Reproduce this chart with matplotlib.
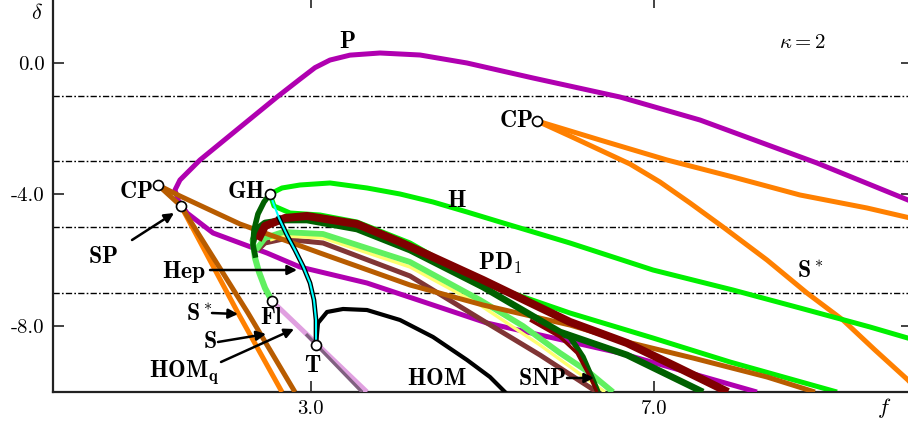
import matplotlib
matplotlib.use("Agg")
import matplotlib.pyplot as plt

plt.rcParams["mathtext.fontset"] = "cm"
plt.rcParams["font.family"] = ["cmr10", "DejaVu Serif"]
plt.rcParams["axes.unicode_minus"] = False

# --- curves in the (f, delta) plane ---
# P (magenta)
p_f = [8.195, 6.601, 5.052, 3.655, 2.875, 2.491, 1.863, 1.560, 1.455, 1.420, 1.478,
       1.711, 2.095, 2.608, 2.875, 3.050, 3.224, 3.457, 3.807, 4.272, 4.819, 5.588,
       6.601, 7.532, 8.894, 9.953, 10.03]
p_d = [-10.01, -8.824, -7.912, -6.696, -6.210, -5.784, -5.176, -4.568, -4.173, -3.869,
       -3.565, -2.957, -2.137, -1.043, -0.500, -0.150, 0.080, 0.230, 0.295, 0.234,
       -0.009, -0.465, -1.043, -1.742, -3.049, -4.173, -4.26]

# saddle-node branches from the right cusp CP
cp2_up_f = [5.634, 6.368, 7.148, 7.916, 8.696, 9.476, 10.03]
cp2_up_d = [-1.77, -2.350, -2.957, -3.474, -4.021, -4.416, -4.751]
cp2_lo_f = [5.634, 6.018, 6.368, 6.717, 7.066, 7.416, 7.800, 8.312, 8.777, 9.196,
            9.569, 9.953, 10.03]
cp2_lo_d = [-1.77, -2.228, -2.654, -3.079, -3.626, -4.264, -4.994, -5.997, -7.000,
            -7.821, -8.733, -9.644, -9.857]

# branches from the left cusp CP
cp1_f = [1.222, 1.478, 2.177, 3.108, 4.156, 5.006, 6.018, 6.682, 7.450, 8.312, 8.870]
cp1_d = [-3.717, -4.052, -4.903, -5.784, -6.757, -7.365, -7.973, -8.489, -8.976,
         -9.553, -10.01]
sstar_f = [1.490, 2.154, 2.666]
sstar_d = [-4.356, -7.608, -10.01]
s_f = [1.222, 1.490, 2.270, 2.817]
s_d = [-3.717, -4.356, -7.608, -10.01]

# Hopf curve H (two branches out of GH)
h_up_f = [2.526, 2.666, 2.875, 3.225, 3.655, 4.040, 4.424, 4.820, 5.204, 6.018, 6.985,
          7.916, 8.696, 9.511, 10.03]
h_up_d = [-3.991, -3.808, -3.717, -3.656, -3.808, -3.991, -4.234, -4.538, -4.842,
          -5.480, -6.301, -6.909, -7.456, -8.033, -8.429]
h_lo_f = [2.526, 2.573, 2.759, 3.108, 3.539, 4.156, 4.936, 6.018, 6.985, 7.881, 9.127]
h_lo_d = [-3.991, -4.356, -4.568, -4.629, -4.842, -5.480, -6.635, -7.608, -8.368,
          -9.097, -10.01]

# PD / SNP bundle
maroon_f = [2.386, 2.468, 2.701, 2.957, 3.539, 4.040, 5.006, 6.018, 6.682, 7.264, 7.858]
maroon_d = [-5.389, -4.964, -4.720, -4.659, -4.903, -5.450, -6.605, -7.881, -8.520,
            -9.249, -10.01]
maroon2_f = [5.553, 5.902, 6.100, 6.251, 6.333]
maroon2_d = [-7.821, -8.337, -8.824, -9.553, -10.01]
dgreen_f = [2.328, 2.363, 2.468, 2.701, 2.957, 3.539, 4.156, 5.006, 5.902, 6.682, 7.567]
dgreen_d = [-5.450, -5.085, -4.872, -4.781, -4.781, -5.055, -5.693, -6.818, -8.185,
            -8.884, -10.01]
dgreen2_f = [5.669, 5.867, 6.018, 6.170, 6.286, 6.344]
dgreen2_d = [-7.881, -8.216, -8.337, -8.945, -9.644, -10.01]
lgreen_f = [2.363, 2.468, 2.678, 3.143, 4.156, 4.971, 5.471, 5.902, 6.251, 6.519]
lgreen_d = [-5.693, -5.328, -5.146, -5.207, -6.058, -7.213, -8.003, -8.824, -9.432,
            -10.01]
yellow_f = [2.526, 2.678, 3.143, 4.156, 4.971, 5.669, 6.426]
yellow_d = [-5.389, -5.268, -5.328, -6.210, -7.365, -8.581, -10.01]
rose_f = [2.386, 2.468, 2.678, 3.143, 4.156, 5.052, 5.669, 6.333]
rose_d = [-5.693, -5.480, -5.359, -5.480, -6.483, -7.912, -8.884, -10.01]

# fold of limit cycles from GH down to Fl
fold_dk_f = [2.526, 2.456, 2.386, 2.340, 2.328, 2.352]
fold_dk_d = [-3.991, -4.234, -4.599, -5.085, -5.541, -5.845]
fold_lt_f = [2.328, 2.352, 2.398, 2.468, 2.549]
fold_lt_d = [-5.450, -5.936, -6.362, -6.848, -7.243]

# homoclinic curves
hep_f = [2.526, 2.573, 2.631, 2.724, 2.817, 2.910, 2.992, 3.038, 3.062, 3.062]
hep_d = [-3.991, -4.325, -4.720, -5.237, -5.693, -6.179, -6.696, -7.213, -7.821, -8.581]
hom_f = [3.062, 3.085, 3.190, 3.376, 3.655, 4.040, 4.424, 4.820, 5.087, 5.262]
hom_d = [-8.581, -7.912, -7.577, -7.486, -7.517, -7.821, -8.337, -9.036, -9.553, -10.01]
homq_f = [2.549, 3.655]
homq_d = [-7.243, -10.01]
homq2_f = [2.945, 3.597]
homq2_d = [-8.25, -10.01]

# codimension-two points
pts_f = [1.222, 1.490, 2.526, 2.549, 3.062, 5.634]
pts_d = [-3.717, -4.356, -3.991, -7.243, -8.581, -1.77]

dash_levels = [-1, -3, -5, -7]
yticks = [0, -4, -8]
ytick_labels = ["0.0", "-4.0", "-8.0"]
xticks = [3, 7]
xtick_labels = ["3.0", "7.0"]

MAG = "#B000B0"
ORANGE = "#FF8000"
BROWN = "#B85C00"
GREEN = "#00F000"

fig = plt.figure(figsize=(9.08, 4.25), dpi=100)
ax = fig.add_axes([53 / 908, 33.3 / 425, 859 / 908, 394.8 / 425])
ax.set_xlim(0, 10)
ax.set_ylim(-10, 2)

for lev in dash_levels:
    ax.axhline(lev, color="k", lw=1.0, ls=(0, (4.5, 1.6, 1.2, 1.6)), zorder=1)

lw = 3.6
ax.plot(p_f, p_d, color=MAG, lw=lw, zorder=3, solid_capstyle="butt")
ax.plot(cp2_up_f, cp2_up_d, color=ORANGE, lw=lw, zorder=3)
ax.plot(cp2_lo_f, cp2_lo_d, color=ORANGE, lw=lw, zorder=3)
ax.plot(sstar_f, sstar_d, color=ORANGE, lw=lw, zorder=3, solid_capstyle="butt")
ax.plot(s_f, s_d, color=BROWN, lw=lw, zorder=3, solid_capstyle="butt")
ax.plot(h_up_f, h_up_d, color=GREEN, lw=lw, zorder=3)
ax.plot(h_lo_f, h_lo_d, color=GREEN, lw=lw, zorder=2.5, solid_capstyle="butt")

ax.plot(rose_f, rose_d, color="#803535", lw=3.6, zorder=3.1, solid_capstyle="butt")
ax.plot(yellow_f, yellow_d, color="#FFFF70", lw=2.4, zorder=3.2, solid_capstyle="butt")
ax.plot(lgreen_f, lgreen_d, color="#60F060", lw=4.2, zorder=3.3, solid_capstyle="butt")
ax.plot(cp1_f, cp1_d, color=BROWN, lw=lw, zorder=3.35, solid_capstyle="butt")
ax.plot(dgreen_f, dgreen_d, color="#006000", lw=4.8, zorder=3.4, solid_capstyle="butt")
ax.plot(dgreen2_f, dgreen2_d, color="#006000", lw=4.0, zorder=3.4, solid_capstyle="butt")
ax.plot(maroon_f, maroon_d, color="#800000", lw=5.8, zorder=3.5, solid_capstyle="butt")
ax.plot(maroon2_f, maroon2_d, color="#800000", lw=2.4, zorder=3.5, solid_capstyle="butt")

ax.plot(fold_lt_f, fold_lt_d, color="#60F060", lw=4.4, zorder=3.6)
ax.plot(fold_dk_f, fold_dk_d, color="#006000", lw=4.0, zorder=3.7)

ax.plot(homq_f, homq_d, color="#E0A0E0", lw=lw, zorder=3.8, solid_capstyle="butt")
ax.plot(homq2_f, homq2_d, color="#806080", lw=2.4, zorder=3.9, solid_capstyle="butt")

ax.plot(hep_f[2:], hep_d[2:], color="k", lw=3.4, zorder=5)
ax.plot(hep_f, hep_d, color="#00FFFF", lw=1.5, zorder=5.1)
ax.plot(hom_f, hom_d, color="k", lw=3.0, zorder=5)

ax.plot(pts_f, pts_d, ls="none", marker="o", ms=7.2, mfc="white", mec="k",
        mew=1.2, zorder=6, clip_on=False)

for sp in ax.spines.values():
    sp.set_linewidth(1.6)
    sp.set_color("#222222")
ax.set_xticks(xticks)
ax.set_xticklabels(xtick_labels)
ax.set_yticks(yticks)
ax.set_yticklabels(ytick_labels)
ax.tick_params(direction="in", length=8, width=1.2, labelsize=15, pad=6,
               top=True, right=True, color="#222222")

fs = 17
labels = [
    (3.423, 0.447, r"$\mathbf{P}$", "center"),
    (5.588, -1.954, r"$\mathbf{CP}$", "right"),
    (1.164, -4.112, r"$\mathbf{CP}$", "right"),
    (2.468, -4.112, r"$\mathbf{GH}$", "right"),
    (4.703, -4.386, r"$\mathbf{H}$", "center"),
    (0.582, -6.088, r"$\mathbf{SP}$", "center"),
    (1.519, -6.544, r"$\mathbf{Hep}$", "center"),
    (5.204, -6.301, r"$\mathbf{PD_1}$", "center"),
    (8.812, -6.514, r"$\mathbf{S}^*$", "center"),
    (1.700, -7.821, r"$\mathbf{S}^*$", "center"),
    (2.549, -7.942, r"$\mathbf{Fl}$", "center"),
    (1.828, -8.672, r"$\mathbf{S}$", "center"),
    (1.525, -9.553, r"$\mathbf{HOM_q}$", "center"),
    (3.027, -9.401, r"$\mathbf{T}$", "center"),
    (4.470, -9.796, r"$\mathbf{HOM}$", "center"),
    (5.692, -9.796, r"$\mathbf{SNP}$", "center"),
]
for x, y, s, ha in labels:
    ax.text(x, y, s, ha=ha, va="baseline", fontsize=fs, zorder=7)

ax.text(8.719, 0.447, r"$\kappa = 2$", ha="center", va="baseline", fontsize=15)

arrows = [
    ((0.920, -5.389), (1.409, -4.568)),
    ((1.828, -6.301), (2.841, -6.301)),
    ((1.851, -7.608), (2.154, -7.64)),
    ((1.921, -8.489), (2.480, -8.246)),
    ((1.956, -9.097), (2.806, -8.094)),
    ((5.984, -9.583), (6.298, -9.583)),
]
for tail, head in arrows:
    ax.annotate("", xy=head, xytext=tail, zorder=7,
                arrowprops=dict(arrowstyle="-|>", color="k", lw=1.8,
                                mutation_scale=14, shrinkA=0, shrinkB=0))

fig.text(37 / 908, 1 - 13 / 425, r"$\delta$", ha="center", va="center", fontsize=16)
fig.text(884 / 908, 1 - 408 / 425, r"$f$", ha="center", va="center", fontsize=16)

fig.savefig("out.png", dpi=100)
